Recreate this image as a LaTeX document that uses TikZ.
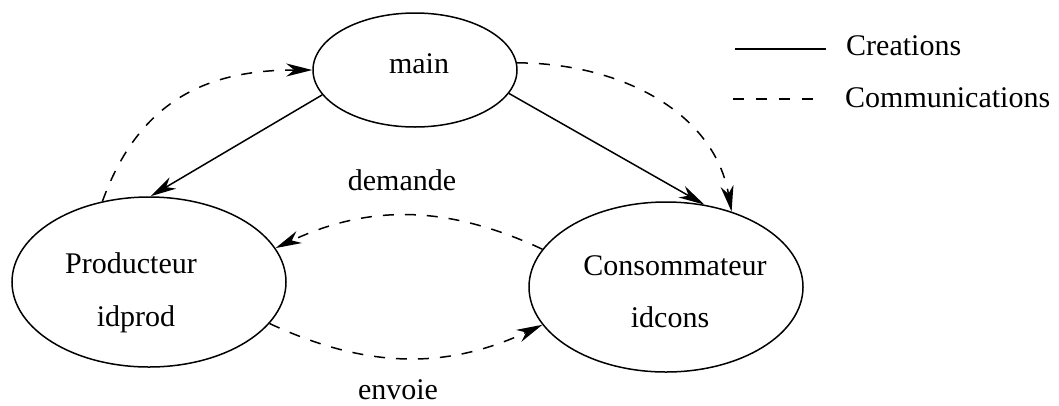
\documentclass[tikz,border=0pt]{standalone}
\usepackage{fontspec}
\setmainfont{LiberationSerif}[Extension=.ttf, UprightFont=*-Regular,
  BoldFont=*-Bold, ItalicFont=*-Italic, BoldItalicFont=*-BoldItalic]
\usetikzlibrary{shapes.geometric,arrows.meta}

\begin{document}
\begin{tikzpicture}[x=1pt,y=1pt,
  proc/.style={draw, ellipse, line width=1.5pt, inner sep=0pt},
  txt/.style={font=\rmfamily\fontsize{30}{36}\selectfont, anchor=base, inner sep=0pt},
  tip/.style={-{Stealth[length=26pt,width=13pt,inset=8pt]}},
  create/.style={line width=1.5pt, tip},
  comm/.style={line width=1.5pt, dash pattern=on 11pt off 11pt, tip},
  legline/.style={line width=1.5pt}
]
  % canvas
  \fill[white] (0,-405) rectangle (1059,0);
  \useasboundingbox (0,-405) rectangle (1059,0);

  % processes
  \node[proc, minimum width=204pt, minimum height=114pt] (main) at (415,-70) {};
  \node[proc, minimum width=274pt, minimum height=170pt] (prod) at (149,-282) {};
  \node[proc, minimum width=274pt, minimum height=170pt] (cons) at (666,-287) {};

  \node[txt] (mainname) at (419,-73) {main};
  \node[txt] (prodname) at (131,-273) {Producteur};
  \node[txt] (prodid)   at (136,-326) {idprod};
  \node[txt] (consname) at (675,-275) {Consommateur};
  \node[txt] (consid)   at (670,-327) {idcons};

  % creations
  \draw[create] (main.195) -- (prod.89);
  \draw[create] (main.-14) -- (cons.65);

  % communications
  \draw[comm] (prod.120) to[out=70, in=180, looseness=1.1] (main.180);
  \draw[comm] (main.4) to[out=0, in=100] (cons.49);
  \draw[comm] (cons.163) to[out=155, in=25] (prod.15);
  \draw[comm] (prod.-19) to[out=-25, in=-155] (cons.197);

  \node[txt] (demande) at (402,-190) {demande};
  \node[txt] (envoie)  at (398,-399) {envoie};

  % legend
  \coordinate (ls1) at (735,-49);
  \coordinate (le1) at (826,-49);
  \coordinate (ls2) at (733,-99);
  \coordinate (le2) at (822,-99);
  \draw[legline] (ls1) -- (le1);
  \draw[legline, dash pattern=on 11pt off 12pt] (ls2) -- (le2);
  \node[txt, anchor=base west] (legcreate) at (846,-55) {Creations};
  \node[txt, anchor=base west] (legcomm)   at (845,-107) {Communications};
\end{tikzpicture}
\end{document}
